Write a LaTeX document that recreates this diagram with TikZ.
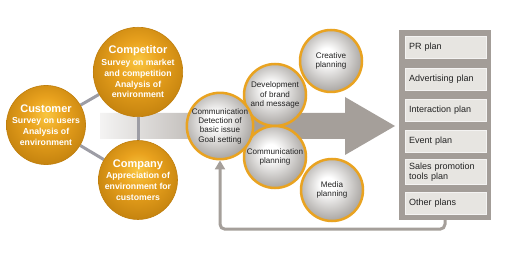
\documentclass[tikz,border=0pt]{standalone}
\usepackage{fontspec}
\setmainfont{Liberation Sans}
\usetikzlibrary{arrows.meta,backgrounds}

\definecolor{amberlight}{HTML}{F9C640}
\definecolor{ambermid}{HTML}{E9A21E}
\definecolor{amberdark}{HTML}{BF7E0C}
\definecolor{pearledge}{HTML}{9E9A96}
\definecolor{pearlrim}{HTML}{E9A321}
\definecolor{arrowgray}{HTML}{A59F9A}
\definecolor{panelgray}{HTML}{A39D98}
\definecolor{planfill}{HTML}{E7E5E1}
\definecolor{linkgray}{HTML}{9D9DA5}
\definecolor{inkdark}{HTML}{222222}

\pgfdeclareradialshading{amberball}{\pgfpoint{0bp}{7bp}}{color(0bp)=(amberlight); color(12bp)=(ambermid); color(31bp)=(amberdark); color(50bp)=(amberdark)}
\pgfdeclareradialshading{pearlball}{\pgfpoint{-4bp}{5bp}}{color(0bp)=(white); color(6bp)=(white); color(30bp)=(pearledge); color(50bp)=(pearledge)}

\newcommand\ambertitle[1]{{\fontsize{11}{12.5}\selectfont #1}\\[0.8pt]}

\begin{document}
\begin{tikzpicture}[x=1pt, y=-1pt,
  amber/.style={circle, minimum size=79pt, inner sep=0pt, shade, shading=amberball,
    draw=amberdark, line width=0.6pt, text=white, align=center,
    font=\fontsize{8.7}{10.8}\selectfont\bfseries},
  pearl/.style={circle, minimum size=62pt, inner sep=0pt, shade, shading=pearlball,
    draw=pearlrim, line width=2.5pt, text=inkdark, align=center,
    font=\fontsize{8.1}{9.3}\selectfont},
  planbox/.style={rectangle, minimum height=22pt, text width=73pt, inner xsep=4pt,
    fill=planfill, draw=white!55!planfill, line width=0.8pt, text=inkdark, align=left,
    font=\fontsize{9}{10}\selectfont},
  link/.style={draw=linkgray, line width=3pt},
  feedback/.style={draw=arrowgray, line width=3pt, rounded corners=5pt,
    -{Triangle[width=10pt,length=9pt]}}]

\useasboundingbox (0,0) rectangle (510,253);

% Environment analysis
\node[amber] (customer) at (46,125) {\ambertitle{Customer}Survey on users\\Analysis of\\environment};
\node[amber] (competitor) at (138,72) {\ambertitle{Competitor}Survey on market\\and competition\\Analysis of\\environment};
\node[amber] (company) at (138,180) {\ambertitle{Company}Appreciation of\\environment for\\customers};

% Planning steps
\node[pearl] (brand) at (275,95) {Development\\of brand\\and message};
\node[pearl] (complan) at (275,157) {Communication\\planning};
\node[pearl, minimum size=64pt] (comm) at (220,126) {Communication\\Detection of\\basic issue\\Goal setting};
\node[pearl] (creative) at (331,61) {Creative\\planning};
\node[pearl] (media) at (332,190) {Media\\planning};

% Plans
\node[rectangle, fill=panelgray, minimum width=92pt, minimum height=190pt] (panel) at (445,125) {};
\node[planbox] (prplan) at (445.5,47.5) {PR plan};
\node[planbox] (adplan) at (445.5,79) {Advertising plan};
\node[planbox] (interplan) at (445.5,110) {Interaction plan};
\node[planbox] (eventplan) at (445.5,141) {Event plan};
\node[planbox] (salesplan) at (445.5,172) {Sales promotion\\tools plan};
\node[planbox] (otherplan) at (445.5,203) {Other plans};

% Big arrow and links
\begin{pgfonlayer}{background}
\path[left color=arrowgray!12, right color=arrowgray, middle color=arrowgray]
  (100,113) -- (345,113) -- (345,97) -- (395,126) -- (345,155) -- (345,139) -- (100,139) -- cycle;
\draw[link] (customer) -- (competitor);
\draw[link] (customer) -- (company);
\draw[link] (competitor) -- (company);
\end{pgfonlayer}

% Feedback
\draw[feedback] (panel.south) -- ++(0,9) -| (comm.south);

\end{tikzpicture}
\end{document}
